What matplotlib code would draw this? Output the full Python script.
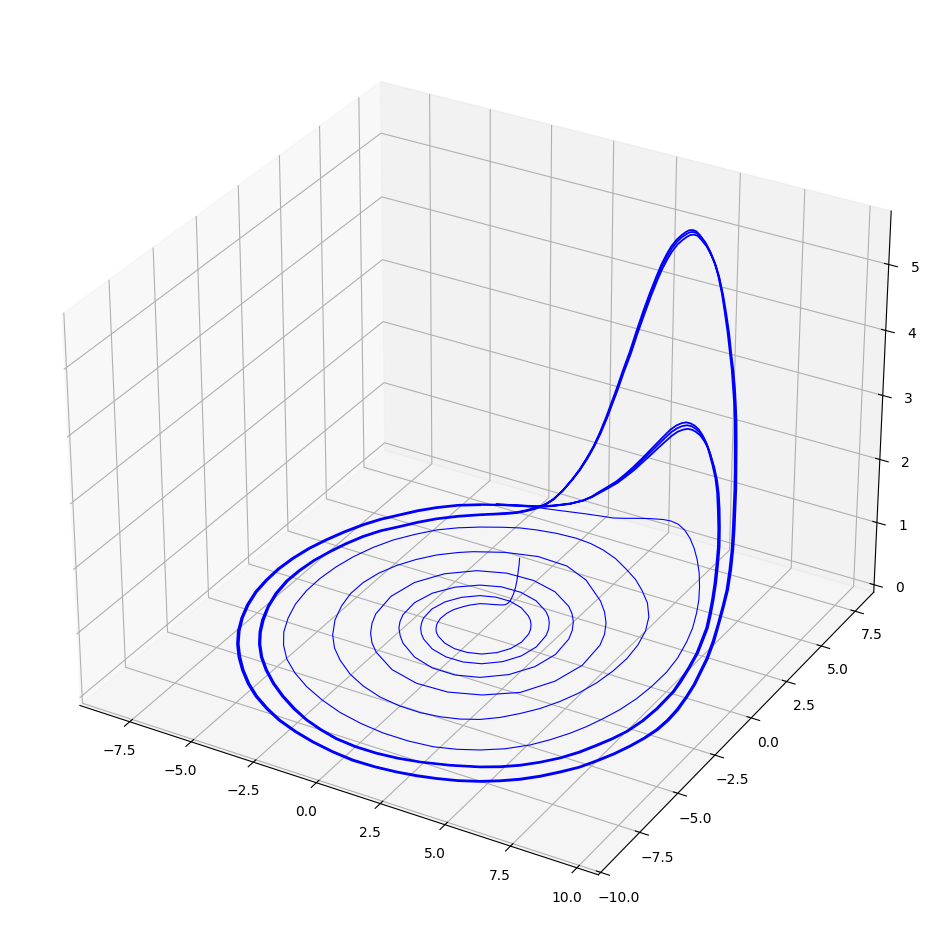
import matplotlib
matplotlib.use("Agg")
import matplotlib.pyplot as plt

# transient: spiral out from the start point
x_spiral = [1.06,0.95,0.87,0.79,0.67,0.56,0.48,0.42,0.37,0.28,0.14,-0.06,-0.28,-0.48,-0.64,-0.9,-1.05,-1.24,-1.33,-1.35,-1.27,
    -1.15,-1.02,-0.82,-0.4,0.09,0.59,1.08,1.5,1.78,1.9,1.85,1.76,1.63,1.46,1.25,0.76,0.2,-0.37,-0.91,-1.42,-1.77,-1.93,-1.88,
    -1.77,-1.63,-1.42,-1.17,-0.57,0.1,0.78,1.4,1.96,2.34,2.5,2.43,2.3,2.12,1.9,1.63,0.98,0.23,-0.55,-1.27,-1.97,-2.46,-2.68,
    -2.62,-2.48,-2.29,-1.99,-1.65,-0.84,0.05,0.96,1.79,2.56,3.09,3.32,3.23,3.06,2.82,2.52,2.16,1.26,0.23,-0.85,-1.86,-2.76,
    -3.38,-3.62,-3.48,-3.27,-2.98,-2.61,-2.16,-1.1,0.08,1.29,2.41,3.47,4.15,4.47,4.37,4.16,3.85,3.45,2.97,1.83,0.77,-0.45,
    -1.62,-2.64,-3.08,-3.66,-4.14,-4.53,-4.81,-4.96,-4.96,-4.8,-4.51,-4.06,-3.56,-2.98,-2.21,-1.42,
    -0.56,0.33,1.13,1.86,2.52,3.12,3.65,4.12,4.56,4.93,5.23,5.45,5.57,5.6,5.51,5.3,4.96,4.47,3.88,3.34,2.74,2.03,1.36,0.75,0.13,
    -0.65,-1.4,-2,-2.56,-3.29,-3.96,-4.55,-5.07,-5.55,-5.91,-6.19,-6.36,-6.44,-6.42,-6.28,-6.01,-5.65,-5.2,-4.62,-3.89,
    -3.09,-2.18,-1.24,-0.26,0.7,1.68,2.6,3.38,4.07,4.76,5.38,5.81,6.2,6.49,6.73,6.96,7.12,7.2,7.21,7.11,6.89,6.64,6.29,5.95,5.55,5.1,4.62,4.23,
    3.79,3.46,3.17,2.87,2.64,2.19,1.77,1.34,0.92,0.35,-0.22,-0.75,-1.26,-1.72,-2.16,-2.77,-3.33]
y_spiral = [0.99,1.14,1.2,1.26,1.36,1.42,1.42,1.42,1.37,1.35,1.34,1.34,1.3,1.22,1.15,0.91,0.71,0.4,0.08,-0.31,-0.66,-0.91,-1.1,
    -1.29,-1.55,-1.69,-1.68,-1.53,-1.2,-0.76,-0.24,0.31,0.58,0.83,1.07,1.28,1.61,1.78,1.77,1.59,1.19,0.67,0.07,-0.56,-0.86,
    -1.14,-1.43,-1.68,-2.07,-2.26,-2.25,-2.04,-1.59,-0.98,-0.26,0.51,0.89,1.24,1.55,1.82,2.24,2.45,2.43,2.17,1.64,0.93,0.12,
    -0.72,-1.13,-1.5,-1.89,-2.24,-2.78,-3.06,-3.06,-2.78,-2.17,-1.33,
    -0.35,0.69,1.21,1.69,2.11,2.48,3.05,3.32,3.28,2.92,2.2,1.22,0.07,-1.12,-1.69,-2.23,-2.72,-3.15,-3.8,-4.11,-4.06,-3.66,
    -2.91,-1.77,-0.49,0.87,1.54,2.17,2.75,3.29,4.22,4.69,4.74,4.42,3.92,3.62,3.12,2.52,1.86,1.15,0.37,-0.45,-1.27,-2.13,-2.96,
    -3.61,-4.15,-4.71,-5.11,-5.4,-5.54,-5.55,-5.44,-5.24,-4.94,-4.52,-4,-3.42,-2.74,-2,-1.16,
    -0.29,0.6,1.5,2.39,3.21,3.96,4.59,5.08,5.49,5.93,6.21,6.37,6.43,6.38,6.24,6.07,5.82,5.44,5.02,4.54,3.92,3.23,2.47,1.62,0.76,
    -0.14,-1.01,-1.92,-2.79,-3.6,-4.29,-4.96,-5.55,-6.05,-6.48,-6.82,-7.04,-7.16,-7.16,-7.05,-6.8,-6.47,-6.02,-5.43,-4.85,
    -4.2,-3.59,-2.94,-2.19,-1.36,-0.45,0.52,1.45,2.46,3.32,4.22,4.98,5.74,6.51,7.22,7.69,8.15,8.35,8.4,8.39,8.24,8.07,7.86,7.77,7.66,7.7,7.73,7.67,7.61,7.54,
    7.48,7.33,7.08]
z_spiral = ([1.0,0.85,0.7,0.55,0.4,0.28,0.2,0.15,0.12,0.09,0.07,0.05] + [0.04] * 187
    + [0.08,0.1,0.15,0.2,0.22,0.25,0.25,0.25,0.22,0.2,0.16,0.12,0.1,0.08,0.07,0.06,0.04,0.04])

# settled two-loop orbit, first pass
x_cycle_a = [-4.07,-4.75,-5.34,-5.81,-6.23,-6.67,-7.02,-7.34,-7.62,-7.84,-7.98,-8.04,-8,-7.9,-7.68,-7.39,-7.02,-6.59,-6.09,-5.54,
    -4.9,-4.25,-3.51,-2.76,-1.91,-1.07,-0.18,0.68,1.52,2.31,3.02,3.67,4.35,5.01,5.57,6.1,6.59,7.04,7.46,7.78,8.08,8.32,8.5,8.62,8.66,8.63,8.53,8.39,8.19,7.99,7.65,
    7.37,7.07,6.79,6.48,6.26,6.08,6.01,5.97,6.02,5.9,5.88,5.91,5.95,5.98,5.99,5.98,5.98,5.92,5.84,5.73,5.67,5.5,5.28,5.12,5.02,
    4.88,4.77,4.57,4.31,4.04,3.84,3.47,3.16,2.76,2.42,2.02,1.64,1.22,0.79,0.58,0.35,0.07,-0.18,-0.41,-0.66,-0.97,-1.24,
    -1.5,-1.73,-1.93,-2.12,-2.34,-2.57,-2.92,-3.3,-3.71,-4.35,-4.93,-5.39,-5.81,-6.25,-6.59,-6.87,-7.08,-7.25,-7.33,-7.34,
    -7.22,-7,-6.68,-6.34,-5.94,-5.43,-4.84,-4.16,-3.46,-2.71,-1.99,-1.24,
    -0.49,0.33,1.14,1.92,2.68,3.65,4.57,5.15,5.68,6.18,6.63,7.01,7.32,7.58,7.8,7.94,8,7.99,7.98,7.88,7.73,7.53,7.28,7.05,6.83,
    6.47,6.05,5.59,5.16,4.75,4.54,4.34,4.31,4.37,4.39,4.48,4.52,4.5,4.46,4.4,4.3,4.12,3.89,3.64,3.34,2.95,2.56,2.07,1.67,1.35,
    1.01,0.61,0.31,-0.04,-0.43,-0.93,-1.4,-1.76,-2.09,-2.7,-3.52]
y_cycle_a = [6.71,6.3,5.8,5.3,4.76,4.18,3.57,2.86,2.1,1.34,0.51,-0.3,-1.14,-1.93,-2.76,-3.54,-4.28,-4.97,-5.61,-6.22,-6.82,-7.32,
    -7.77,-8.15,-8.46,-8.69,-8.86,-8.95,-8.93,-8.84,-8.7,-8.53,-8.3,-7.99,-7.65,-7.26,-6.8,-6.28,-5.75,-5.15,-4.53,-3.88,
    -3.27,-2.64,-1.98,-1.28,-0.49,0.3,1.09,1.89,2.94,3.81,4.65,5.43,6.18,6.71,7.09,7.24,
    7.33,7.22,7.39,7.37,7.23,7.04,6.86,6.67,6.48,6.24,6.11,5.95,5.86,5.63,5.6,5.62,5.66,5.6,5.61,5.56,5.62,5.76,5.89,5.93,6.25,6.48,6.75,6.9,7.16,7.39,7.65,7.98,7.99,8.06,8.09,8.08,8.01,7.93,
    7.93,7.73,7.54,7.44,7.33,7.15,6.97,6.77,6.55,6.35,
    6.13,5.66,5.16,4.64,4.09,3.53,2.91,2.2,1.49,0.76,-0.03,-0.82,-1.67,-2.5,-3.3,-3.98,-4.61,-5.25,-5.84,-6.41,-6.9,-7.34,-7.7,-7.96,-8.16,-8.25,-8.24,-8.15,-7.99,-7.68,-7.29,-6.96,-6.58,-6.11,
    -5.59,-5,-4.37,-3.8,-3.18,-2.4,-1.55,-0.91,-0.41,0.23,1.09,2.01,2.82,3.55,4.14,4.98,5.91,6.86,7.73,8.48,8.8,
    9.08,8.98,8.62,8.33,7.94,7.58,7.31,7.09,6.89,6.77,6.76,6.8,6.84,6.96,7.15,7.3,7.59,7.7,7.69,7.7,7.78,7.72,7.74,7.81,7.75,7.6,7.47,7.37,7.21,6.95]

# second pass, slightly wider rings and lower lobes
x_cycle_b = [-4.11,-4.78,-5.38,-5.86,-6.28,-6.72,-7.08,-7.4,-7.68,-7.9,-8.04,-8.1,-8.06,-7.96,
    -7.74,-7.44,-7.08,-6.64,-6.14,-5.58,-4.94,-4.28,-3.54,-2.78,-1.92,-1.08,-0.18,0.68,
    1.53,2.32,3.03,3.69,4.37,5.04,5.6,6.14,6.63,7.09,7.5,7.83,8.13,8.37,8.55,8.68,8.72,
    8.69,8.58,8.44,8.24,8.04,7.7,7.41,7.11,6.83,6.52,6.29,6.11,6.04,6.01,6.07,5.97,5.96,
    6,6.06,6.09,6.11,6.12,6.13,6.08,6.01,5.92,5.87,5.7,5.48,5.33,5.22,5.08,4.97,4.77,
    4.5,4.23,4.02,3.64,3.32,2.91,2.56,2.14,1.75,1.31,0.87,0.65,0.41,0.12,-0.15,-0.38,
    -0.64,-0.96,-1.24,-1.51,-1.74,-1.95,-2.14,-2.37,-2.59,-2.95,-3.33,-3.74,-4.39,-4.97,
    -5.44,-5.85,-6.3,-6.65,-6.92,-7.13,-7.3,-7.39,-7.4,-7.28,-7.05,-6.74,-6.39,-5.98,
    -5.47,-4.87,-4.19,-3.49,-2.73,-2,-1.25,-0.49,0.33,1.15,1.93,2.69,3.67,4.6,5.18,5.72,
    6.21,6.67,7.06,7.37,7.63,7.84,7.99,8.05,8.04,8.03,7.94,7.78,7.58,7.33,7.1,6.88,6.51,
    6.09,5.63,5.19,4.77,4.56,4.41,4.42,4.52,4.57,4.69,4.75,4.75,4.71,4.67,4.56,4.38,
    4.14,3.89,3.57,3.15,2.74,2.22,1.8,1.45,1.09,0.68,0.37,-0.01,-0.41,-0.93,-1.4,-1.77,
    -2.1,-2.7,-3.53]
y_cycle_b = [6.76,6.35,5.85,5.35,4.8,4.22,3.6,2.89,2.12,1.35,0.52,-0.3,-1.14,-1.93,-2.77,-3.56,
    -4.3,-5,-5.65,-6.26,-6.86,-7.37,-7.82,-8.2,-8.51,-8.74,-8.91,-9.01,-8.98,-8.89,-8.76,
    -8.58,-8.35,-8.04,-7.7,-7.31,-6.85,-6.32,-5.78,-5.18,-4.55,-3.9,-3.29,-2.65,-1.98,
    -1.28,-0.48,0.31,1.11,1.91,2.97,3.84,4.69,5.48,6.24,6.78,7.17,7.32,7.39,7.25,7.4,
    7.35,7.19,6.98,6.78,6.56,6.35,6.09,5.93,5.75,5.64,5.39,5.36,5.36,5.4,5.34,5.34,5.3,
    5.37,5.51,5.65,5.7,6.03,6.27,6.56,6.74,7.02,7.27,7.56,7.91,7.93,8.02,8.06,8.07,8.02,
    7.95,7.96,7.77,7.59,7.5,7.39,7.21,7.03,6.83,6.61,6.4,6.18,5.71,5.2,4.68,4.13,3.56,
    2.93,2.23,1.51,0.77,-0.03,-0.82,-1.68,-2.51,-3.32,-4,-4.64,-5.28,-5.88,-6.45,-6.94,
    -7.39,-7.74,-8.01,-8.21,-8.3,-8.29,-8.2,-8.03,-7.72,-7.33,-7.01,-6.62,-6.15,-5.62,
    -5.03,-4.4,-3.82,-3.2,-2.41,-1.56,-0.91,-0.4,0.24,1.1,2.03,2.84,3.58,4.17,5.03,5.96,
    6.91,7.8,8.56,8.89,9.07,8.9,8.49,8.14,7.68,7.28,6.98,6.74,6.54,6.41,6.4,6.45,6.51,
    6.66,6.88,7.08,7.4,7.56,7.58,7.62,7.73,7.7,7.74,7.82,7.78,7.64,7.51,7.41,7.24,6.98]

z_big = [1.3,1.65,2.0,2.4,2.7,3.0,3.3,3.6,3.95,4.3,4.6,4.9,5.1,5.3,5.42,5.5,5.53,5.55,5.53,5.5,5.42,5.3,5.15,5.0,
    4.75,4.5,4.15,3.8,3.4,3.0,2.6,2.2,1.95,1.7,1.4,1.15,0.95,0.75,0.55,0.38,0.25,0.17,0.12,0.1,0.08,0.07,0.06,0.05]
z_small = [0.7,0.95,1.25,1.5,1.75,1.95,2.1,2.2,2.27,2.3,2.27,2.2,2.1,1.95,1.75,1.55,1.3,1.1,0.95,0.8,0.65,0.55,0.42,0.3,0.2,0.15,0.12,0.1,0.08,0.06]
z_cycle = ([0.04] * 51 + [0.1,0.14,0.2,0.32,0.5,0.72,1.0] + z_big
    + [0.04] * 48 + [0.09,0.1,0.12,0.15,0.2,0.3,0.5] + z_small)

# middle strand of each lobe
x_big = [5.99,6.04,5.93,5.91,5.95,6,6.03,6.04,6.04,6.04,5.99,5.91,5.81,5.76,5.59,5.37,
    5.21,5.11,4.97,4.86,4.65,4.39,4.12,3.92,3.54,3.23,2.82,2.48,2.07,1.69,1.26,0.82,
    0.61,0.38,0.09,-0.17,-0.4,-0.65,-0.97,-1.24,-1.51,-1.74,-1.94,-2.13,-2.35,-2.58,-2.94,-3.32]
y_big = [7.36,7.24,7.4,7.37,7.22,7.02,6.83,6.63,6.43,6.18,6.04,5.88,5.77,5.54,5.51,5.52,
    5.55,5.49,5.5,5.46,5.52,5.66,5.8,5.84,6.16,6.4,6.68,6.84,7.11,7.34,7.62,7.96,7.97,
    8.05,8.08,8.08,8.02,7.94,7.95,7.75,7.56,7.47,7.36,7.18,7,6.8,6.58,6.37]
x_small = [4.37,4.36,4.44,4.48,4.58,4.62,4.61,4.58,4.52,4.42,4.24,4.01,3.75,3.44,3.04,2.64,
    2.14,1.73,1.39,1.05,0.64,0.34,-0.03,-0.42,-0.93,-1.4,-1.77,-2.1,-2.7,-3.53]
y_small = [9.08,8.95,8.57,8.26,7.82,7.44,7.16,6.93,6.74,6.61,6.6,6.65,6.7,6.83,7.03,7.2,
    7.51,7.64,7.65,7.67,7.76,7.71,7.75,7.82,7.77,7.62,7.49,7.39,7.23,6.97]

fig = plt.figure(figsize=(9.44, 9.44), dpi=100)
ax = fig.add_axes([0.0108, 0.0116, 0.9777, 0.9777], projection="3d")

ax.plot(x_spiral + x_cycle_a[:1], y_spiral + y_cycle_a[:1], z_spiral + z_cycle[:1], color="blue", lw=0.8)
ax.plot(x_cycle_a + x_cycle_b, y_cycle_a + y_cycle_b, z_cycle + z_cycle, color="blue", lw=1.3)
ax.plot(x_big, y_big, z_big, color="blue", lw=1.3)
ax.plot(x_small, y_small, z_small, color="blue", lw=1.3)

ax.set_xlim(-9.55, 10.8)
ax.set_ylim(-10.15, 8.9)
ax.set_zlim(-0.12, 5.8)
fig.savefig("out.png", dpi=100)
